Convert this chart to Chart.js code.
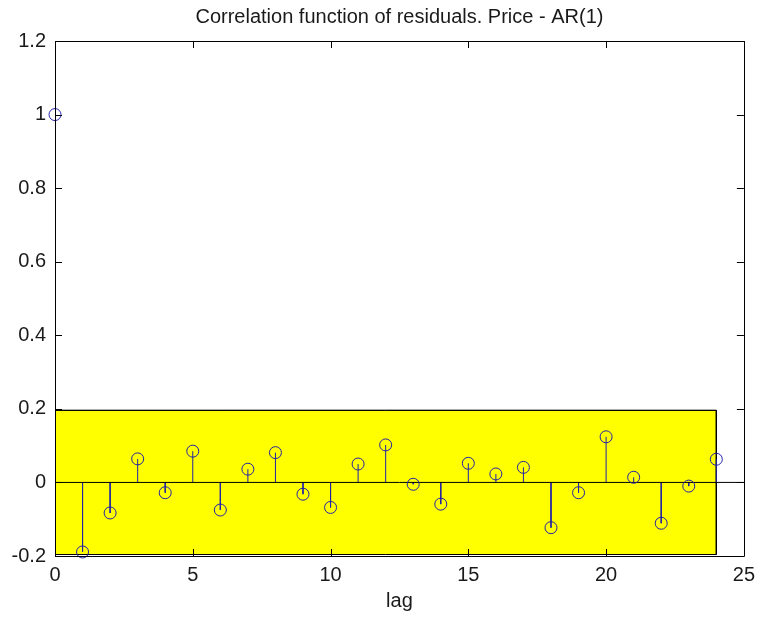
<!DOCTYPE html>
<html>
<head>
<meta charset="utf-8">
<script src="https://cdn.jsdelivr.net/npm/chart.js"></script>
<style>
  html, body { margin: 0; padding: 0; background: #ffffff; }
  #wrap { width: 762px; height: 617px; }
</style>
</head>
<body>
<div id="wrap"><canvas id="acfChart"></canvas></div>
<script>
    // autocorrelation of the residuals, lags 0..24
    const lags = [0, 1, 2, 3, 4, 5, 6, 7, 8, 9, 10, 11, 12, 13, 14, 15, 16, 17, 18, 19, 20, 21, 22, 23, 24];
    const acf = [1, -0.189, -0.083, 0.064, -0.028, 0.085, -0.075, 0.036, 0.081, -0.032, -0.068, 0.050,
                 0.102, -0.005, -0.059, 0.052, 0.023, 0.041, -0.123, -0.028, 0.124, 0.014, -0.111, -0.010, 0.063];
    const bandLimit = 0.196;   // confidence bound
    const bandEnd = 24;
    const xRange = [0, 25];
    const xTicks = [0, 5, 10, 15, 20, 25];
    const yTicks = [-0.2, 0, 0.2, 0.4, 0.6, 0.8, 1, 1.2];
    const chartTitle = 'Correlation function of residuals. Price - AR(1)';

    const stemColor = '#2323a6';
    const fontFamily = "'Liberation Sans', Arial, sans-serif";
    Chart.defaults.font.family = fontFamily;
    Chart.defaults.color = '#1a1a1a';

    // stems: 0 -> value, broken by a null point
    const stemPoints = [];
    lags.forEach((lag, i) => {
        stemPoints.push({ x: lag, y: 0 }, { x: lag, y: acf[i] }, { x: lag, y: null });
    });

    // box, inward tick marks and a title centred over the axes (matlab style)
    const frame = {
        id: 'frame',
        afterDraw(chart) {
            const { ctx, chartArea: a, scales: { x, y } } = chart;
            const len = 7;
            ctx.save();
            ctx.strokeStyle = '#000';
            ctx.lineWidth = 1;
            ctx.beginPath();
            ctx.rect(Math.round(a.left) + 0.5, Math.round(a.top) + 0.5,
                     Math.round(a.right - a.left), Math.round(a.bottom - a.top));
            xTicks.forEach(v => {
                const px = Math.round(x.getPixelForValue(v)) + 0.5;
                ctx.moveTo(px, a.bottom); ctx.lineTo(px, a.bottom - len);
                ctx.moveTo(px, a.top); ctx.lineTo(px, a.top + len);
            });
            yTicks.forEach(v => {
                const py = Math.round(y.getPixelForValue(v)) + 0.5;
                ctx.moveTo(a.left, py); ctx.lineTo(a.left + len, py);
                ctx.moveTo(a.right, py); ctx.lineTo(a.right - len, py);
            });
            ctx.stroke();

            ctx.fillStyle = '#1a1a1a';
            ctx.font = '20px ' + fontFamily;
            ctx.textAlign = 'center';
            ctx.textBaseline = 'middle';
            ctx.fillText(chartTitle, (a.left + a.right) / 2, 17);
            ctx.restore();
        }
    };

    const ctx = document.getElementById('acfChart').getContext('2d');
    new Chart(ctx, {
        type: 'scatter',
        data: {
            datasets: [
                {
                    // yellow confidence band
                    type: 'line',
                    data: [{ x: 0, y: bandLimit }, { x: bandEnd, y: bandLimit }],
                    fill: { value: -bandLimit },
                    backgroundColor: '#ffff00',
                    borderColor: '#000',
                    borderWidth: 1,
                    pointRadius: 0,
                    order: 5
                },
                {
                    type: 'line',
                    data: [{ x: 0, y: -bandLimit }, { x: 0, y: bandLimit }, { x: bandEnd, y: bandLimit },
                           { x: bandEnd, y: -bandLimit }, { x: 0, y: -bandLimit }],
                    borderColor: '#000',
                    borderWidth: 1,
                    pointRadius: 0,
                    fill: false,
                    order: 4
                },
                {
                    type: 'line',
                    data: stemPoints,
                    borderColor: stemColor,
                    borderWidth: 1,
                    pointRadius: 0,
                    spanGaps: false,
                    fill: false,
                    order: 3
                },
                {
                    // zero baseline
                    type: 'line',
                    data: [{ x: xRange[0], y: 0 }, { x: xRange[1], y: 0 }],
                    borderColor: '#000',
                    borderWidth: 1,
                    pointRadius: 0,
                    fill: false,
                    order: 2
                },
                {
                    data: lags.map((lag, i) => ({ x: lag, y: acf[i] })),
                    pointStyle: 'circle',
                    pointRadius: 6,
                    borderColor: stemColor,
                    borderWidth: 1,
                    backgroundColor: 'rgba(0,0,0,0)',
                    clip: false,
                    order: 1
                }
            ]
        },
        options: {
            responsive: true,
            maintainAspectRatio: false,
            animation: false,
            layout: { padding: { left: 0, right: 13, top: 41, bottom: 0 } },
            plugins: {
                legend: { display: false },
                tooltip: { enabled: false },
                title: { display: false }
            },
            scales: {
                x: {
                    type: 'linear',
                    min: xRange[0],
                    max: xRange[1],
                    grid: { display: false, drawTicks: false },
                    border: { display: false },
                    afterBuildTicks: s => { s.ticks = xTicks.map(v => ({ value: v })); },
                    afterFit: s => { s.height = 61; },
                    ticks: { font: { size: 20 }, padding: 7, maxRotation: 0 },
                    title: { display: true, text: 'lag', font: { size: 20 }, padding: { top: 0, bottom: 4 } }
                },
                y: {
                    type: 'linear',
                    min: -0.2,
                    max: 1.2,
                    grid: { display: false, drawTicks: false },
                    border: { display: false },
                    afterBuildTicks: s => { s.ticks = yTicks.map(v => ({ value: v })); },
                    afterFit: s => { s.width = 55; },
                    ticks: {
                        font: { size: 20 },
                        padding: 9,
                        callback: v => String(Math.round(v * 10) / 10)
                    }
                }
            }
        },
        plugins: [frame]
    });
</script>
</body>
</html>
